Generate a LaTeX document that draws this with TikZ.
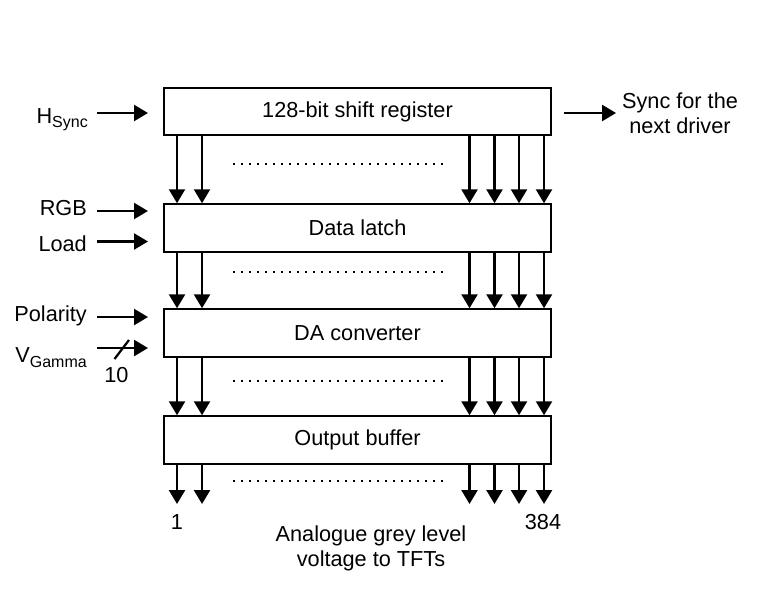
\documentclass[tikz,border=0pt]{standalone}
\usepackage{fontspec}
\setmainfont{Liberation Sans}
\usetikzlibrary{arrows.meta}
\begin{document}
\begin{tikzpicture}[x=1pt,y=-1pt,
  every node/.style={font=\fontsize{21.7}{25}\selectfont, inner sep=0pt},
  blockbox/.style={draw, line width=2pt, minimum width=387pt, minimum height=47.5pt},
  arr/.style={line width=2.5pt, -{Triangle[length=14pt,width=16pt]}},
  dots/.style={line width=2.2pt, dash pattern=on 2.2pt off 5.8pt}]
\useasboundingbox (0,0) rectangle (775,607);
% blocks
\node[blockbox] (b1) at (357.5,111.5) {128-bit shift register};
\node[blockbox] (b2) at (357.5,228) {Data latch};
\node[blockbox] (b3) at (357.5,333) {DA converter};
\node[blockbox] (b4) at (357.5,440) {Output buffer};
% columns
\foreach \i/\x in {1/177,2/202,3/469.5,4/494.5,5/519,6/544}
  \coordinate (c\i) at (\x,0);
\foreach \i in {1,...,6}{
  \draw[arr] (b1.south -| c\i) -- (b2.north -| c\i);
  \draw[arr] (b2.south -| c\i) -- (b3.north -| c\i);
  \draw[arr] (b3.south -| c\i) -- (b4.north -| c\i);
  \coordinate (e\i) at (c\i |- 0,504);
  \draw[arr] (b4.south -| c\i) -- (e\i);
}
% dotted lines
\coordinate (d1a) at (233,164); \coordinate (d1b) at (447,164);
\coordinate (d2a) at (233,272); \coordinate (d2b) at (447,272);
\coordinate (d3a) at (233,381); \coordinate (d3b) at (447,381);
\coordinate (d4a) at (233,481); \coordinate (d4b) at (447,481);
\foreach \k in {1,...,4} \draw[dots] (d\k a) -- (d\k b);
% left inputs
\node[anchor=base east] (hs) at (88,123) {H\raisebox{-5pt}{\fontsize{16}{16}\selectfont Sync}};
\node[anchor=base east] (rgb) at (87,215) {RGB};
\node[anchor=base east] (ld) at (87,251.5) {Load};
\node[anchor=base east] (pol) at (87,321) {Polarity};
\node[anchor=base east] (vg) at (87,362) {V\raisebox{-5pt}{\fontsize{16}{16}\selectfont Gamma}};
\coordinate (hs1) at (97,113);  \coordinate (hs2) at (148,113);
\coordinate (rg1) at (97,211);  \coordinate (rg2) at (148,211);
\coordinate (ld1) at (97,241.5);\coordinate (ld2) at (148,241.5);
\coordinate (po1) at (97,317);  \coordinate (po2) at (148,317);
\coordinate (vg1) at (97,348);  \coordinate (vg2) at (148,348);
\draw[arr] (hs1) -- (hs2);
\draw[arr] (rg1) -- (rg2);
\draw[arr] (ld1) -- (ld2);
\draw[arr] (po1) -- (po2);
\draw[arr] (vg1) -- (vg2);
\coordinate (sl1) at (114.5,359); \coordinate (sl2) at (129,340);
\draw[line width=2.2pt] (sl1) -- (sl2);
\node[anchor=base] (ten) at (116.5,382) {10};
% right output
\coordinate (sy1) at (564,113); \coordinate (sy2) at (616,113);
\draw[arr] (sy1) -- (sy2);
\node[anchor=base, align=center] (sync) at (680,133) {Sync for the\\next driver};
% bottom labels
\node[anchor=base] (one) at (177,529) {1};
\node[anchor=base] (last) at (543,529) {384};
\node[anchor=base, align=center] (ana) at (371,566) {Analogue grey level\\voltage to TFTs};
\end{tikzpicture}
\end{document}
